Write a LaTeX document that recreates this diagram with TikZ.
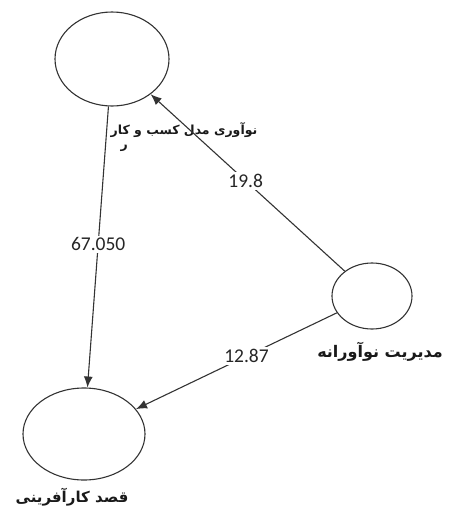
\documentclass[tikz,border=0pt]{standalone}
\usepackage{fontspec}
\setmainfont{Carlito}
\newfontfamily\arabicfont[Script=Arabic]{DejaVu Sans}
\TeXXeTstate=1
\usetikzlibrary{shapes.geometric, arrows.meta}

\begin{document}
\begin{tikzpicture}[x=1pt, y=-1pt,
  c/.style={ellipse, draw=black!80, line width=1.1pt, inner sep=0pt},
  lbl/.style={fill=white, inner sep=2pt, font=\fontsize{19.5}{22}\selectfont, text=black!85},
  fa/.style={font=\arabicfont\bfseries\fontsize{#1}{#1}\selectfont, text=black!90, inner sep=0pt},
  a/.style={-{Latex[length=11pt, width=9pt]}, line width=1.1pt, draw=black!80}]
  \useasboundingbox (0,0) rectangle (451,515);
  \node[c, minimum width=114pt, minimum height=94pt] (bm) at (112,59) {};
  \node[c, minimum width=122pt, minimum height=92pt] (ent) at (84,434) {};
  \node[c, minimum width=80pt, minimum height=66pt] (mgmt) at (372,296) {};
  \node[fa=12.5, align=left] (bmt) at (184,137) {\beginR نوآوری مدل کسب و کار\endR\\[2pt]\hspace*{10pt}\beginR ر\endR};
  \node[fa=16] (mgmtt) at (380,352) {\beginR مدیریت نوآورانه\endR};
  \node[fa=15] (entt) at (72,497) {\beginR قصد کارآفرینی\endR};
  \draw[a] (bm) -- node[lbl, pos=0.49] {67.050} (ent);
  \draw[a] (mgmt) -- node[lbl, pos=0.51] {19.8} (bm);
  \draw[a] (mgmt) -- node[lbl, pos=0.45] {12.87} (ent);
\end{tikzpicture}
\end{document}
